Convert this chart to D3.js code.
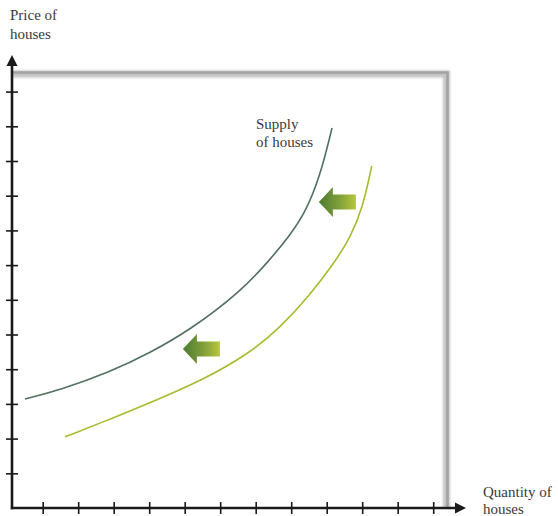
<!DOCTYPE html>
<html>
<head>
<meta charset="utf-8">
<script src="https://cdn.jsdelivr.net/npm/d3@7/dist/d3.min.js"></script>
<style>
  html, body { margin: 0; padding: 0; background: #fff; }
  svg { display: block; }
  text { font-family: "Liberation Serif", "DejaVu Serif", serif; fill: #3a3a3a; }
</style>
</head>
<body>
<script>
// ---- data (axis units) ----
const xTicks = [1, 2, 3, 4, 5, 6, 7, 8, 9, 10, 11, 12];
const yTicks = [1, 2, 3, 4, 5, 6, 7, 8, 9, 10, 11, 12];
const supplyX  = [0.50, 1.49, 2.90, 4.02, 5.15, 6.56, 7.40, 7.97, 8.39, 8.81, 9.15];
const supplyY  = [3.14, 3.40, 3.92, 4.47, 5.13, 6.22, 7.15, 7.87, 8.50, 9.54, 10.95];
const supply2X = [1.63, 2.90, 4.02, 5.52, 6.84, 7.68, 8.53, 9.23, 9.66, 10.02, 10.27];
const supply2Y = [2.05, 2.56, 3.03, 3.69, 4.47, 5.19, 6.14, 7.09, 7.78, 8.67, 9.86];
const shiftArrowX = [8.78, 4.95];   // arrow tip positions
const shiftArrowY = [8.82, 4.58];
const yTitle = ["Price of", "houses"];
const xTitle = ["Quantity of", "houses"];
const curveLabel = ["Supply", "of houses"];

const W = 558, H = 516;
const svg = d3.select("body").append("svg").attr("width", W).attr("height", H);

const x = d3.scaleLinear().domain([0, 12]).range([7.2, 433.2]);
const y = d3.scaleLinear().domain([0, 12]).range([508, 91.6]);
const originX = 12, originY = 508;

const defs = svg.append("defs");
const blur = defs.append("filter").attr("id", "soft").attr("x", "-20%").attr("y", "-20%").attr("width", "140%").attr("height", "140%");
blur.append("feGaussianBlur").attr("stdDeviation", 1.2);
const blur2 = defs.append("filter").attr("id", "soft2").attr("x", "-20%").attr("y", "-20%").attr("width", "140%").attr("height", "140%");
blur2.append("feGaussianBlur").attr("stdDeviation", 0.6);
const grad = defs.append("linearGradient").attr("id", "arrowGrad").attr("x1", "0%").attr("x2", "100%");
grad.append("stop").attr("offset", "0%").attr("stop-color", "#4d7a33");
grad.append("stop").attr("offset", "55%").attr("stop-color", "#7fa039");
grad.append("stop").attr("offset", "100%").attr("stop-color", "#b8c63c");

// ---- frame (shadowed border top and right) ----
const fx = 446.5, fy = 74;
svg.append("path")
  .attr("d", `M${originX},${fy} L${fx},${fy} L${fx},${originY}`)
  .attr("fill", "none").attr("stroke", "#c4c4c4").attr("stroke-width", 7)
  .attr("filter", "url(#soft)");
svg.append("path")
  .attr("d", `M${originX},${fy - 1.5} L${fx + 1},${fy - 1.5} L${fx + 1},${originY}`)
  .attr("fill", "none").attr("stroke", "#a2a2a2").attr("stroke-width", 2.5)
  .attr("filter", "url(#soft2)");
// faint shadow left of y-axis
svg.append("line").attr("x1", originX - 6).attr("x2", originX - 6).attr("y1", 70).attr("y2", originY + 4)
  .attr("stroke", "#e2e2e2").attr("stroke-width", 4).attr("filter", "url(#soft)");

// ---- supply curves ----
const line = d3.line().x(d => x(d[0])).y(d => y(d[1])).curve(d3.curveBasis);
const s1 = supplyX.map((v, i) => [v, supplyY[i]]);
const s2 = supply2X.map((v, i) => [v, supply2Y[i]]);
svg.append("path").datum(s1).attr("d", line)
  .attr("fill", "none").attr("stroke", "#52705f").attr("stroke-width", 1.6);
svg.append("path").datum(s2).attr("d", line)
  .attr("fill", "none").attr("stroke", "#a9bb2e").attr("stroke-width", 1.6);

// ---- shift arrows ----
shiftArrowX.forEach((ax, i) => {
  const tx = x(ax), ty = y(shiftArrowY[i]);
  const headLen = 14, len = 37, hh = 15, bh = 7.5;
  const p = `M${tx},${ty} L${tx + headLen},${ty - hh} L${tx + headLen},${ty - bh} L${tx + len},${ty - bh}
             L${tx + len},${ty + bh} L${tx + headLen},${ty + bh} L${tx + headLen},${ty + hh} Z`;
  svg.append("path").attr("d", p).attr("fill", "url(#arrowGrad)").attr("filter", "url(#soft2)");
});

// ---- axes ----
const axisColor = "#1a1a1a";
const gx = svg.append("g").attr("transform", `translate(0,${originY})`)
  .call(d3.axisBottom(x).tickValues(xTicks).tickFormat("").tickSize(6));
gx.select(".domain").remove();
gx.selectAll(".tick line").attr("y1", -6).attr("y2", 6).attr("stroke", axisColor).attr("stroke-width", 1.6);

const gy = svg.append("g").attr("transform", `translate(${originX},0)`)
  .call(d3.axisLeft(y).tickValues(yTicks).tickFormat("").tickSize(6));
gy.select(".domain").remove();
gy.selectAll(".tick line").attr("x1", -6).attr("x2", 6).attr("stroke", axisColor).attr("stroke-width", 1.6);

svg.append("line").attr("x1", originX).attr("x2", originX).attr("y1", originY + 1.2).attr("y2", 64)
  .attr("stroke", axisColor).attr("stroke-width", 2.6);
svg.append("line").attr("x1", originX - 1.2).attr("x2", 458).attr("y1", originY).attr("y2", originY)
  .attr("stroke", axisColor).attr("stroke-width", 2.6);
// arrow heads
svg.append("path").attr("d", `M${originX},55 L${originX - 5.5},66 L${originX + 5.5},66 Z`).attr("fill", axisColor);
svg.append("path").attr("d", `M466,${originY} L455,${originY - 5.5} L455,${originY + 5.5} Z`).attr("fill", axisColor);

// ---- texts ----
svg.append("text").attr("x", 10).attr("y", 20).attr("font-size", 15).text(yTitle[0]);
svg.append("text").attr("x", 10).attr("y", 39).attr("font-size", 15).text(yTitle[1]);
svg.append("text").attr("x", 483).attr("y", 497).attr("font-size", 15).text(xTitle[0]);
svg.append("text").attr("x", 483).attr("y", 514).attr("font-size", 15).text(xTitle[1]);
svg.append("text").attr("x", 256).attr("y", 129).attr("font-size", 15).text(curveLabel[0]);
svg.append("text").attr("x", 256).attr("y", 147).attr("font-size", 15).text(curveLabel[1]);
</script>
</body>
</html>
